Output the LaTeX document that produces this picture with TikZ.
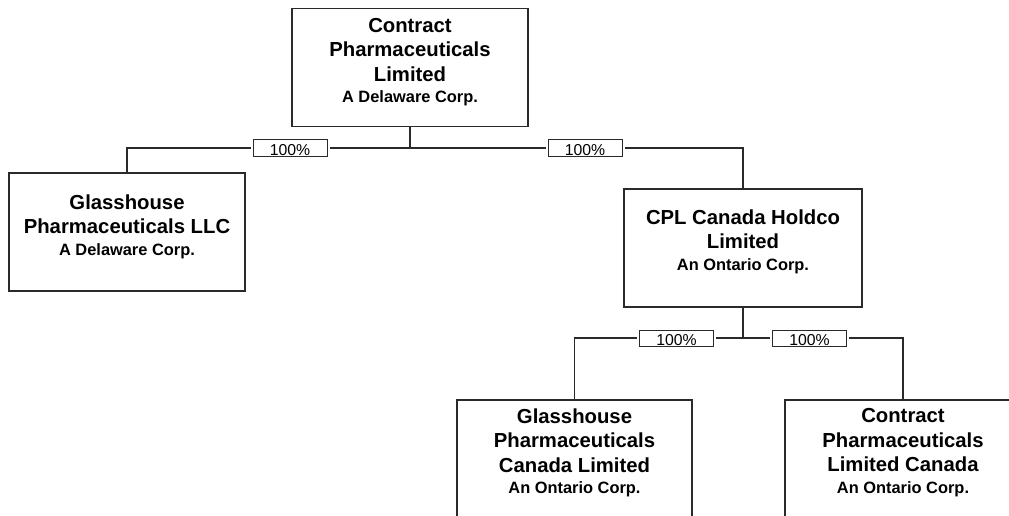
\documentclass[tikz,border=0pt]{standalone}
\usepackage{fontspec}
\setmainfont{Liberation Sans}
\definecolor{ln}{HTML}{2A2A2A}
\tikzset{
  x=1pt, y=-1pt,
  box/.style={draw=ln, line width=1.2pt, minimum width=236pt, minimum height=118pt, inner sep=0pt},
  boxtext/.style={anchor=north, align=center, inner sep=0pt, font=\fontsize{20.3}{24.5}\selectfont\bfseries},
  pct/.style={draw=ln, fill=white, line width=1pt, minimum width=74pt, minimum height=16pt, inner sep=0pt, outer sep=2.5pt, text height=15pt, text depth=1pt, font=\fontsize{15.8}{16}\selectfont},
  conn/.style={draw=ln, line width=1.2pt},
}
\newcommand{\sub}[1]{{\fontsize{16.4}{24.5}\selectfont #1}}
\begin{document}
\begin{tikzpicture}
\useasboundingbox (0,0) rectangle (1009,516);
\clip (0,0) rectangle (1009,516);
% boxes
\node[box] (top) at (410,67.5) {};
\node[box] (glh) at (127,232) {};
\node[box, minimum width=238pt] (cpl) at (743,248) {};
\node[box, minimum width=235pt] (gpc) at (574.5,459) {};
\node[box] (cplc) at (903,459) {};
% texts
\node[boxtext] (top-t) at ([yshift=-10pt]top.north) {Contract\\Pharmaceuticals\\Limited\\[-3pt]\sub{A Delaware Corp.}};
\node[boxtext] (glh-t) at ([yshift=-22pt]glh.north) {Glasshouse\\Pharmaceuticals LLC\\[-3pt]\sub{A Delaware Corp.}};
\node[boxtext] (cpl-t) at ([yshift=-21pt]cpl.north) {CPL Canada Holdco\\Limited\\[-3pt]\sub{An Ontario Corp.}};
\node[boxtext] (gpc-t) at ([yshift=-9pt]gpc.north) {Glasshouse\\Pharmaceuticals\\Canada Limited\\[-3pt]\sub{An Ontario Corp.}};
\node[boxtext] (cplc-t) at ([yshift=-9pt]cplc.north) {Contract\\Pharmaceuticals\\Limited Canada\\[-3pt]\sub{An Ontario Corp.}};
% percentage labels
\node[pct] (lA) at (290,148) {100\%};
\node[pct] (lB) at (585,148) {100\%};
\node[pct] (lC) at (676.5,338) {100\%};
\node[pct] (lD) at (809.5,338) {100\%};
% junctions
\coordinate (j1) at (410,148);
\coordinate (j2) at (743,338);
% connectors
\draw[conn] (top.south) -- (j1);
\draw[conn] (j1) -- (lA.east);
\draw[conn] (lA.west) -| (glh.north);
\draw[conn] (j1) -- (lB.west);
\draw[conn] (lB.east) -| (cpl.north);
\draw[conn] (cpl.south) -- (j2);
\draw[conn] (j2) -- (lC.east);
\draw[conn] (lC.west) -| (gpc.north);
\draw[conn] (j2) -- (lD.west);
\draw[conn] (lD.east) -| (cplc.north);
\end{tikzpicture}
\end{document}
